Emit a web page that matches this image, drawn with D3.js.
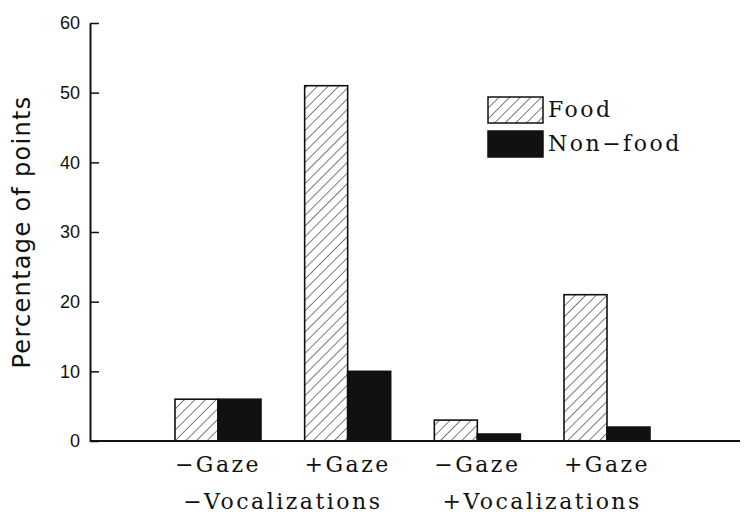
<!DOCTYPE html>
<html lang="en">
<head>
<meta charset="UTF-8">
<title>Percentage of points</title>
<style>
	* { margin: 0; }
	body { width: 750px; height: 524px; background: white; }
	svg { display: block; }
	.tick text { font-family: "Liberation Sans", Arial, sans-serif; font-size: 18px; fill: #111; }
	.ylab { font-family: "DejaVu Sans", sans-serif; font-size: 24px; fill: #111; letter-spacing: 1.3px; }
	.cat, .legend text { font-family: "DejaVu Serif", serif; font-size: 22px; fill: #111; letter-spacing: 2.5px; }
</style>
</head>
<body>
<svg id="chart" width="750" height="524"></svg>
<script src="https://cdnjs.cloudflare.com/ajax/libs/d3/7.8.5/d3.min.js"></script>
<script>
	// data
	const groups = ["-Vocal -Gaze", "-Vocal +Gaze", "+Vocal -Gaze", "+Vocal +Gaze"];
	const gazeLabels = ["\u2212Gaze", "+Gaze", "\u2212Gaze", "+Gaze"];
	const vocLabels = ["\u2212Vocalizations", "+Vocalizations"];
	const series = ["Food", "Non-food"];
	const legendLabels = ["Food", "Non\u2212food"];
	const food = [6, 51, 3, 21];
	const nonFood = [6, 10, 1, 2];
	const yTicks = [0, 10, 20, 30, 40, 50, 60];
	// data end

	const svg = d3.select("#chart");
	const mLeft = 90, mRight = 740, mTop = 23, mBottom = 441;

	const y = d3.scaleLinear().domain([0, 60]).range([mBottom, mTop]);
	const x = d3.scalePoint().domain(groups).range([218, 607]);
	const xs = d3.scaleBand().domain(series).range([-43, 43]);

	const defs = svg.append("defs");
	const pat = defs.append("pattern")
		.attr("id", "hatch")
		.attr("patternUnits", "userSpaceOnUse")
		.attr("width", 7.5).attr("height", 7.5)
		.attr("patternTransform", "rotate(45)");
	pat.append("rect").attr("width", 7.5).attr("height", 7.5).attr("fill", "white");
	pat.append("line")
		.attr("x1", 0).attr("y1", 0).attr("x2", 0).attr("y2", 7.5)
		.attr("stroke", "#111").attr("stroke-width", 1.1);

	const fills = { "Food": "url(#hatch)", "Non-food": "#111" };

	const rows = groups.map((g, i) => [
		{ group: g, key: "Food", value: food[i] },
		{ group: g, key: "Non-food", value: nonFood[i] }
	]).flat();

	svg.append("g")
		.selectAll("rect")
		.data(rows)
		.join("rect")
		.attr("x", d => x(d.group) + xs(d.key))
		.attr("y", d => y(d.value))
		.attr("width", xs.bandwidth())
		.attr("height", d => y(0) - y(d.value))
		.attr("fill", d => fills[d.key])
		.attr("stroke", "#111")
		.attr("stroke-width", 1.6);

	// y axis, ticks pointing inward
	const yAxis = svg.append("g")
		.attr("transform", `translate(${mLeft},0)`)
		.call(d3.axisLeft(y).tickValues(yTicks).tickSizeInner(-9).tickSizeOuter(0).tickPadding(10));
	yAxis.select(".domain").attr("stroke", "#111").attr("stroke-width", 2);
	yAxis.selectAll(".tick line").attr("stroke", "#111").attr("stroke-width", 1.5);

	// baseline
	svg.append("line")
		.attr("x1", mLeft).attr("x2", mRight)
		.attr("y1", y(0)).attr("y2", y(0))
		.attr("stroke", "#111").attr("stroke-width", 2);

	svg.append("text")
		.attr("class", "ylab")
		.attr("transform", "translate(30,232) rotate(-90)")
		.attr("text-anchor", "middle")
		.text("Percentage of points");

	svg.append("g")
		.selectAll("text")
		.data(groups)
		.join("text")
		.attr("class", "cat")
		.attr("x", d => x(d))
		.attr("y", 472)
		.attr("text-anchor", "middle")
		.text((d, i) => gazeLabels[i]);

	svg.append("g")
		.selectAll("text")
		.data(vocLabels)
		.join("text")
		.attr("class", "cat")
		.attr("x", (d, i) => (x(groups[i * 2]) + x(groups[i * 2 + 1])) / 2)
		.attr("y", 509)
		.attr("text-anchor", "middle")
		.text(d => d);

	// legend
	const legend = svg.append("g").attr("class", "legend");
	const lg = legend.selectAll("g")
		.data(series)
		.join("g")
		.attr("transform", (d, i) => `translate(488,${97 + i * 34})`);
	lg.append("rect")
		.attr("width", 55).attr("height", 26)
		.attr("fill", d => fills[d])
		.attr("stroke", "#111").attr("stroke-width", 1.5);
	lg.append("text")
		.attr("x", 60).attr("y", 20)
		.text((d, i) => legendLabels[i]);
</script>
</body>
</html>
